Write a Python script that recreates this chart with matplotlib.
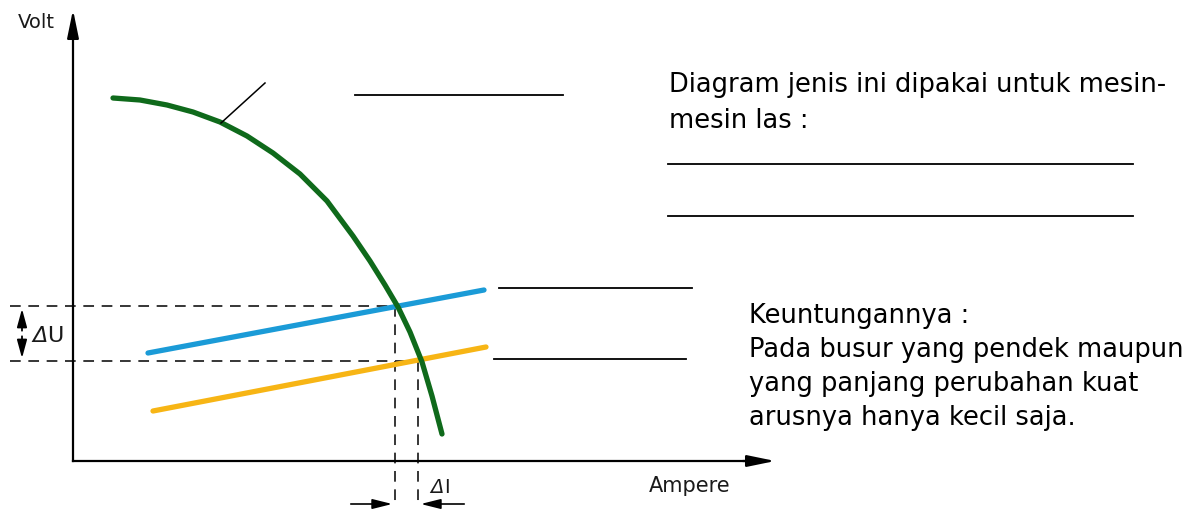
import matplotlib
matplotlib.use("Agg")
import matplotlib.pyplot as plt

# --- data (drawing units: x = ampere direction, y = volt direction, screen-like coordinates) ---
curve_x = [113, 140, 167, 193, 220, 247, 273, 300, 327, 353, 370, 385, 398, 410, 422, 432, 442]
curve_y = [99, 101, 106, 113, 123, 137, 154, 175, 202, 237, 262, 286, 308, 333, 363, 397, 435]
blue_x = [148, 484]
blue_y = [354, 291]
yellow_x = [153, 486]
yellow_y = [412, 348]
u_levels = [307, 362]
i_levels = [395, 418]
blank_lines = [((355, 563), 96), ((499, 692), 289), ((494, 686), 360),
               ((668, 1133), 165), ((668, 1133), 217)]
text_top = ["Diagram jenis ini dipakai untuk mesin-", "mesin las :"]
text_bottom = ["Keuntungannya :", "Pada busur yang pendek maupun",
               "yang panjang perubahan kuat", "arusnya hanya kecil saja."]

fig = plt.figure(figsize=(11.99, 5.10), dpi=100)
ax = fig.add_axes([0, 0, 1, 1])
ax.set_xlim(0, 1199)
ax.set_ylim(510, 0)
ax.axis("off")

FONT = "DejaVu Sans"
# axes
ax.plot([73, 73], [462, 30], color="black", lw=1.6, solid_capstyle="projecting")
ax.annotate("", xy=(73, 8), xytext=(73, 40),
            arrowprops=dict(arrowstyle="-|>,head_length=1.7,head_width=0.35", color="black", lw=1.6))
ax.plot([73, 760], [462, 462], color="black", lw=1.6, solid_capstyle="projecting")
ax.annotate("", xy=(778, 462), xytext=(740, 462),
            arrowprops=dict(arrowstyle="-|>,head_length=1.7,head_width=0.35", color="black", lw=1.6))
ax.text(18, 28, "Volt", fontsize=14, family=FONT, va="baseline", ha="left", color="#1a1a1a")
ax.text(649, 492, "Ampere", fontsize=15, family=FONT, va="baseline", ha="left", color="#1a1a1a")

# dashed guides
for yv, xv in zip(u_levels, i_levels):
    ax.plot([10, xv], [yv, yv], color="black", lw=1.1, ls=(0, (7, 5)))
    ax.plot([xv, xv], [yv, 508], color="black", lw=1.1, ls=(0, (7, 5)))

# Delta U
mid_u = (u_levels[0] + u_levels[1]) / 2
for yv in u_levels:
    ax.annotate("", xy=(22, yv), xytext=(22, mid_u),
                arrowprops=dict(arrowstyle="-|>,head_length=1.1,head_width=0.3", color="black", lw=1.3))
ax.text(32, 342, "Δ", fontsize=16, family=FONT, style="italic", va="baseline", ha="left", color="#1a1a1a")
ax.text(47, 342, "U", fontsize=16, family=FONT, va="baseline", ha="left", color="#1a1a1a")

# Delta I
ax.annotate("", xy=(i_levels[0], 505), xytext=(348, 505),
            arrowprops=dict(arrowstyle="-|>,head_length=1.2,head_width=0.3", color="black", lw=1.2))
ax.annotate("", xy=(i_levels[1], 505), xytext=(467, 505),
            arrowprops=dict(arrowstyle="-|>,head_length=1.2,head_width=0.3", color="black", lw=1.2))
ax.text(430, 493, "Δ", fontsize=14, family=FONT, style="italic", va="baseline", ha="left", color="#1a1a1a")
ax.text(444, 493, "I", fontsize=14, family=FONT, va="baseline", ha="left", color="#1a1a1a")

# curves
ax.plot(blue_x, blue_y, color="#1b9bd7", lw=3.8, solid_capstyle="round")
ax.plot(yellow_x, yellow_y, color="#f7b515", lw=3.8, solid_capstyle="round")
ax.plot(curve_x, curve_y, color="#0f6a1b", lw=3.8, solid_capstyle="round", solid_joinstyle="round")

# pointer
ax.plot([221, 265], [124, 84], color="black", lw=1.1)

# blank lines
for (x0, x1), yv in blank_lines:
    ax.plot([x0, x1], [yv, yv], color="black", lw=1.3)

# text
for i, s in enumerate(text_top):
    ax.text(669, 92 + i * 36, s, fontsize=18.5, family=FONT, va="baseline", ha="left", color="black")
for i, s in enumerate(text_bottom):
    ax.text(749, 323 + i * 34, s, fontsize=18.5, family=FONT, va="baseline", ha="left", color="black")

fig.savefig("out.png", dpi=100)
